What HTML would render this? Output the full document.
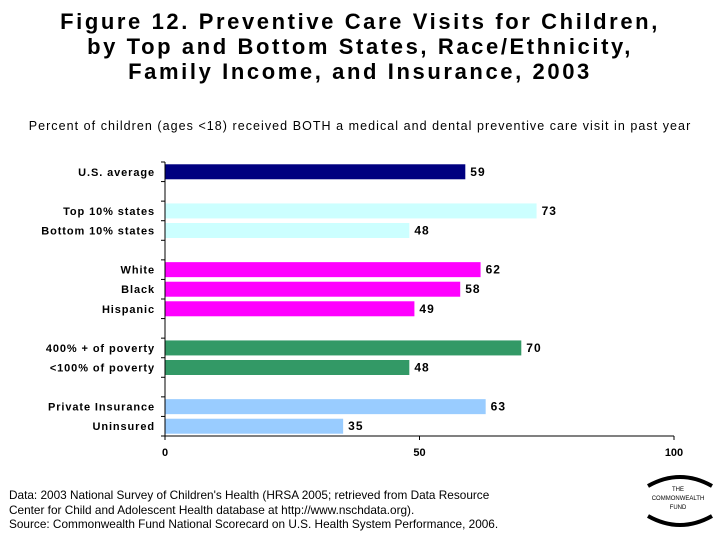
<!DOCTYPE html>
<html><head><meta charset="utf-8"><style>
body{margin:0;width:720px;height:540px;background:#fff;font-family:"Liberation Sans",Arial,sans-serif;overflow:hidden;position:relative}
.title{position:absolute;top:9px;left:0;width:720px;text-align:center;font-weight:bold;font-size:22px;line-height:25px;letter-spacing:2.6px}
.sub{position:absolute;top:119px;left:0;width:720px;text-align:center;font-size:12.5px;letter-spacing:1.05px}
.src{position:absolute;left:9px;top:488px;font-size:11.8px;line-height:14.5px}
</style></head><body>
<div class="title">Figure 12. Preventive Care Visits for Children,<br>by Top and Bottom States, Race/Ethnicity,<br>Family Income, and Insurance, 2003</div>
<div class="sub">Percent of children (ages &lt;18) received BOTH a medical and dental preventive care visit in past year</div>
<svg id="chart" width="720" height="540" style="position:absolute;left:0;top:0"></svg>
<div class="src">Data: 2003 National Survey of Children's Health (HRSA 2005; retrieved from Data Resource<br>Center for Child and Adolescent Health database at http://www.nschdata.org).<br>Source: Commonwealth Fund National Scorecard on U.S. Health System Performance, 2006.</div>
<svg width="80" height="70" style="position:absolute;left:640px;top:466px">
<path d="M8,20 Q40,2 72,20" stroke="#000" stroke-width="4" fill="none"/>
<path d="M8,50 Q40,68 72,50" stroke="#000" stroke-width="4" fill="none"/>
<text x="38" y="25" font-size="6" text-anchor="middle" font-family="Liberation Sans">THE</text>
<text x="38" y="34" font-size="6" text-anchor="middle" font-family="Liberation Sans">COMMONWEALTH</text>
<text x="38" y="43" font-size="6" text-anchor="middle" font-family="Liberation Sans">FUND</text>
</svg>
<script>
const categories=["U.S. average","Top 10% states","Bottom 10% states","White","Black","Hispanic","400% + of poverty","<100% of poverty","Private Insurance","Uninsured"];
const values=[59,73,48,62,58,49,70,48,63,35];
const slots=[0,2,3,5,6,7,9,10,12,13];
const colors=["#000080","#ccffff","#ccffff","#ff00ff","#ff00ff","#ff00ff","#339966","#339966","#99ccff","#99ccff"];
const ticks=[0,50,100];
const NS="http://www.w3.org/2000/svg";
const svg=document.getElementById("chart");
const x0=165,x1=674,yTop=162,yBot=436,nSlots=14,slotH=(yBot-yTop)/nSlots;
const xs=v=>x0+(v/100)*(x1-x0);
const ys=s=>yTop+slotH*(s+0.5);
function mk(t,a){const e=document.createElementNS(NS,t);for(const k in a)e.setAttribute(k,a[k]);svg.appendChild(e);return e;}
categories.forEach((c,i)=>{
 const y=ys(slots[i]);
 const r=mk("rect",{x:x0,y:y-7.5,width:xs(values[i])-x0,height:15,fill:colors[i]});
 
 
 const l=mk("text",{x:155,y:y+4,"text-anchor":"end","font-size":11,"font-weight":"bold","font-family":"Liberation Sans","letter-spacing":0.9});
 l.textContent=c;
 
 
 const v=mk("text",{x:xs(values[i])+5,y:y+4,"font-size":12,"font-weight":"bold","font-family":"Liberation Sans","letter-spacing":1});
 v.textContent=values[i];
 
 
});
const ax=mk("line",{x1:x0,y1:yTop,x2:x0,y2:yBot,stroke:"#000","stroke-width":1});


for(let s=0;s<=nSlots;s++){const t=mk("line",{x1:x0-4,y1:yTop+s*slotH,x2:x0,y2:yTop+s*slotH,stroke:"#000"});
 
 }
const xa=mk("line",{x1:x0,y1:yBot,x2:x1,y2:yBot,stroke:"#000","stroke-width":1});


ticks.forEach(t=>{
 const tk=mk("line",{x1:xs(t),y1:yBot,x2:xs(t),y2:yBot+4,stroke:"#000"});
 
 
 const tl=mk("text",{x:xs(t),y:yBot+20,"text-anchor":"middle","font-size":11,"font-weight":"bold","font-family":"Liberation Sans"});
 tl.textContent=t;
 
 
});
</script>
</body></html>
